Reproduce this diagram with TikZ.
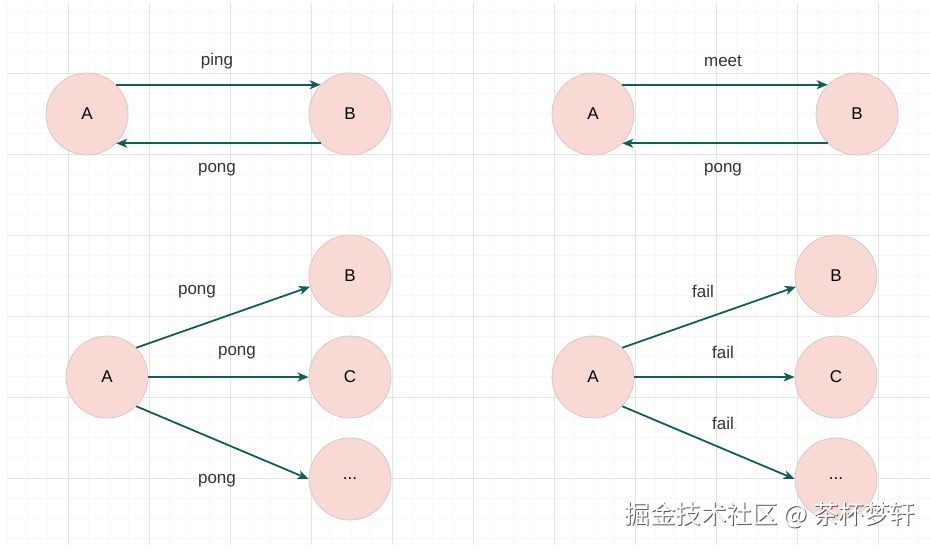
\documentclass[tikz,border=0pt]{standalone}
\usepackage{fontspec}
\setmainfont{Liberation Sans}
\newfontfamily\cjk{Noto Sans CJK SC}
\usetikzlibrary{arrows.meta}

\definecolor{gridminor}{HTML}{F8F8F8}
\definecolor{gridmajor}{HTML}{E4E4E4}
\definecolor{nodefill}{HTML}{F8D9D3}
\definecolor{nodeline}{HTML}{D8C8C5}
\definecolor{edgecol}{HTML}{0E5F5C}

\tikzset{
	peer/.style={circle, minimum size=82pt, inner sep=0pt, fill=nodefill, draw=nodeline, line width=0.8pt, font=\fontsize{17}{20}\selectfont},
	msg/.style={font=\fontsize{17}{20}\selectfont, text=black!80},
	flow/.style={draw=edgecol, line width=1.8pt, -{Stealth[length=11pt, width=9pt, inset=3pt]}}
}

\begin{document}
\begin{tikzpicture}[x=1pt, y=-1pt]
			\useasboundingbox (0, 0) rectangle (930, 550);
			% grid
			\foreach \x in {7.25, 27.5, ..., 930} \draw[gridminor, line width=0.6pt] (\x, 3) -- (\x, 545);
			\foreach \y in {12.25, 32.5, ..., 545} \draw[gridminor, line width=0.6pt] (7, \y) -- (930, \y);
			\foreach \x in {68, 149, ..., 930} \draw[gridmajor, line width=0.9pt] (\x, 3) -- (\x, 545);
			\foreach \y in {73, 154, ..., 545} \draw[gridmajor, line width=0.9pt] (7, \y) -- (930, \y);

			% ping / pong
			\node[peer] (a1) at (87, 114) {A};
			\node[peer] (b1) at (350, 114) {B};
			\draw[flow] (a1.north east) -- (b1.north west);
			\draw[flow] (b1.south west) -- (a1.south east);
			\node[msg] (ping1) at (217, 61) {ping};
			\node[msg] (pong1) at (217, 170) {pong};

			% meet / pong
			\node[peer] (a2) at (593, 114) {A};
			\node[peer] (b2) at (857, 114) {B};
			\draw[flow] (a2.north east) -- (b2.north west);
			\draw[flow] (b2.south west) -- (a2.south east);
			\node[msg] (meet2) at (723, 61) {meet};
			\node[msg] (pong2) at (723, 170) {pong};

			% pong to all
			\node[peer] (a3) at (107, 377) {A};
			\node[peer] (b3) at (350, 276) {B};
			\node[peer] (c3) at (350, 377) {C};
			\node[peer] (d3) at (350, 479) {...};
			\draw[flow] (a3.north east) -- (b3.195);
			\draw[flow] (a3.east) -- (c3.west);
			\draw[flow] (a3.south east) -- (d3.west);
			\node[msg] (pongb3) at (197, 292) {pong};
			\node[msg] (pongc3) at (237, 353) {pong};
			\node[msg] (pongd3) at (217, 481) {pong};

			% fail to all
			\node[peer] (a4) at (593, 377) {A};
			\node[peer] (b4) at (836, 276) {B};
			\node[peer] (c4) at (836, 377) {C};
			\node[peer] (d4) at (836, 479) {...};
			\draw[flow] (a4.north east) -- (b4.195);
			\draw[flow] (a4.east) -- (c4.west);
			\draw[flow] (a4.south east) -- (d4.west);
			\node[msg] (failb4) at (703, 291) {fail};
			\node[msg] (failc4) at (723, 352) {fail};
			\node[msg] (faild4) at (723, 423) {fail};

			% watermark
			\node[font=\cjk\fontsize{25.5}{30}\selectfont, text=black!65] (wmshadow) at (771.2, 516.2) {掘金技术社区 @ 茶杯梦轩};
			\node[font=\cjk\fontsize{25.5}{30}\selectfont, text=white] (wm) at (770, 515) {掘金技术社区 @ 茶杯梦轩};
		\end{tikzpicture}
\end{document}
